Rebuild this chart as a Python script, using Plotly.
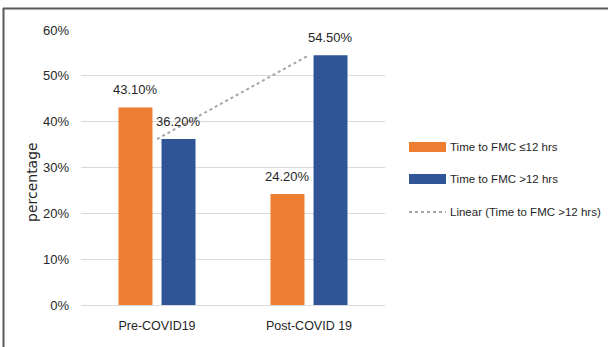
import numpy as np
import plotly.graph_objects as go

categories = ["Pre-COVID19", "Post-COVID 19"]
le12_values = [0.431, 0.242]
gt12_values = [0.362, 0.545]
series_names = ["Time to FMC ≤12 hrs", "Time to FMC >12 hrs", "Linear (Time to FMC >12 hrs)"]
y_ticks = [0, 0.1, 0.2, 0.3, 0.4, 0.5, 0.6]

ORANGE = "#ED7D31"
BLUE = "#2F5597"
TREND = "#A6A6A6"
TXT = "#262626"
FONT = "Liberation Sans, Arial, sans-serif"

W, H = 608, 347
ML, MR, MT, MB = 81, 223, 30, 42
PW, PH = W - ML - MR, H - MT - MB
BARGAP, GROUPGAP = 0.434, 0.21


def px_x(p):
    return (p - ML) / PW


def px_y(p):
    return (H - MB - p) / PH


# linear trendline through the >12 hrs series
idx = np.arange(len(categories))
coef = np.polyfit(idx, gt12_values, 1)
trend = np.polyval(coef, idx)

fig = go.Figure()
fig.add_trace(go.Bar(x=categories, y=le12_values, name=series_names[0],
                     marker=dict(color=ORANGE, line=dict(width=0))))
fig.add_trace(go.Bar(x=categories, y=gt12_values, name=series_names[1],
                     marker=dict(color=BLUE, line=dict(width=0))))
fig.add_trace(go.Scatter(x=categories, y=trend, name=series_names[2], mode="lines",
                         line=dict(color=TREND, width=2, dash="dot")))

# data labels above bars
slot = PW / len(categories) * (1 - BARGAP) / 2
anns = []
for vals, sh in ((le12_values, -slot / 2), (gt12_values, slot / 2)):
    for c, v in zip(categories, vals):
        anns.append(dict(x=c, y=v, xref="x", yref="y", text=f"{v*100:.2f}%",
                         showarrow=False, xanchor="center", yanchor="bottom",
                         xshift=sh, yshift=8, font=dict(family=FONT, size=13, color=TXT)))

# y axis title
anns.append(dict(x=px_x(32), y=px_y(182), xref="paper", yref="paper", text="percentage",
                 textangle=-90, showarrow=False, xanchor="center", yanchor="middle",
                 font=dict(family="DejaVu Sans", size=14, color=TXT)))

shapes = []
# custom legend
rows = [147, 179, 212]
for i, (name, ry) in enumerate(zip(series_names, rows)):
    if i < 2:
        shapes.append(dict(type="rect", xref="paper", yref="paper", xsizemode="pixel",
                           ysizemode="pixel", xanchor=1.0, yanchor=px_y(ry),
                           x0=24, x1=61, y0=-5, y1=5,
                           fillcolor=[ORANGE, BLUE][i], line=dict(width=0)))
    else:
        shapes.append(dict(type="line", xref="paper", yref="paper", xsizemode="pixel",
                           ysizemode="pixel", xanchor=1.0, yanchor=px_y(ry),
                           x0=24, x1=61, y0=0, y1=0,
                           line=dict(color=TREND, width=2, dash="dot")))
    anns.append(dict(x=1.0, y=px_y(ry), xref="paper", yref="paper", text=name,
                     xshift=63, showarrow=False, xanchor="left", yanchor="middle",
                     font=dict(family=FONT, size=11.5, color=TXT)))

# outer frame (top and left edges)
shapes.append(dict(type="line", xref="paper", yref="paper", x0=px_x(3), x1=px_x(608),
                   y0=px_y(8.5), y1=px_y(8.5), line=dict(color="#595959", width=2)))
shapes.append(dict(type="line", xref="paper", yref="paper", x0=px_x(3.5), x1=px_x(3.5),
                   y0=px_y(8), y1=px_y(347), line=dict(color="#595959", width=2)))

fig.update_layout(
    width=W, height=H,
    margin=dict(l=ML, r=MR, t=MT, b=MB, autoexpand=False),
    paper_bgcolor="white", plot_bgcolor="white",
    barmode="group", bargap=BARGAP, bargroupgap=GROUPGAP,
    showlegend=False,
    font=dict(family=FONT, size=13, color=TXT),
    annotations=anns, shapes=shapes,
    xaxis=dict(showgrid=False, showline=False, ticks="", ticklabelstandoff=11,
               tickfont=dict(family=FONT, size=12.5, color=TXT)),
    yaxis=dict(range=[0, 0.6], tickvals=y_ticks, tickformat=".0%", showgrid=True,
               gridcolor="#D9D9D9", gridwidth=1, zeroline=True, zerolinecolor="#D9D9D9",
               zerolinewidth=1, showline=False, ticks="", ticklabelstandoff=11,
               tickfont=dict(family=FONT, size=13, color=TXT)),
)

fig.write_html("out.html")
